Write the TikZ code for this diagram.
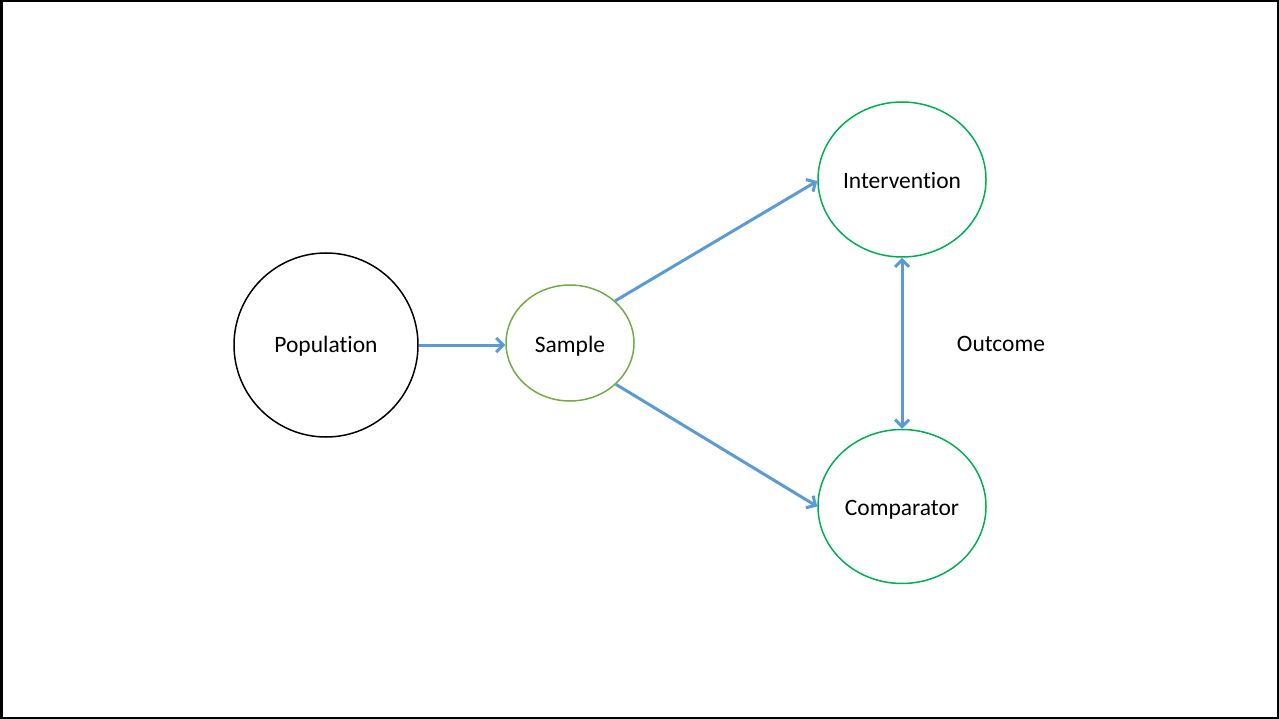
\documentclass[tikz,border=0pt]{standalone}
\usepackage{fontspec}
\setmainfont[Ligatures=NoCommon]{Carlito}
\usetikzlibrary{shapes.geometric,arrows.meta}
\definecolor{flowblue}{HTML}{5B9BD5}
\definecolor{samplegreen}{HTML}{70AD47}
\definecolor{armgreen}{HTML}{00B050}
\tikzset{
  lbl/.style={font=\fontsize{23.5}{28}\selectfont, text=black},
  bubble/.style={ellipse, draw, inner sep=0pt, line width=1.5pt, lbl,
    text height=19.5pt, text depth=5.5pt},
  armbubble/.style={bubble, text height=23.5pt},
  flow/.style={draw=flowblue, line width=3pt,
    -{Straight Barb[length=7pt,width=14pt,line width=3pt]}},
  flowboth/.style={flow,
    {Straight Barb[length=7pt,width=14pt,line width=3pt]}-{Straight Barb[length=7pt,width=14pt,line width=3pt]}}
}
\begin{document}
\begin{tikzpicture}[x=1pt,y=-1pt]
  \useasboundingbox (0,0) rectangle (1279,719);
  % outer frame
  \draw[line width=2.5pt] (1.25,1.25) rectangle (1277.75,717.75);

  % nodes
  \node[bubble, circle, minimum size=184pt] (pop) at (326,345) {Population};
  \node[armbubble, draw=samplegreen, minimum width=128pt, minimum height=116pt] (smp) at (570,343) {Sample};
  \node[armbubble, draw=armgreen, minimum width=168pt, minimum height=155pt] (int) at (902,179.5) {Intervention};
  \node[armbubble, draw=armgreen, minimum width=168pt, minimum height=154pt] (cmp) at (902,506.5) {Comparator};
  \node[lbl] (out) at (1001,344) {Outcome};

  % connectors
  \draw[flow] (pop.east) -- (pop.east -| smp.west);
  \draw[flow] (smp.43) -- (int.181);
  \draw[flow] (smp.318) -- (cmp.180);
  \draw[flowboth] (int.south) -- (cmp.north);
\end{tikzpicture}
\end{document}
